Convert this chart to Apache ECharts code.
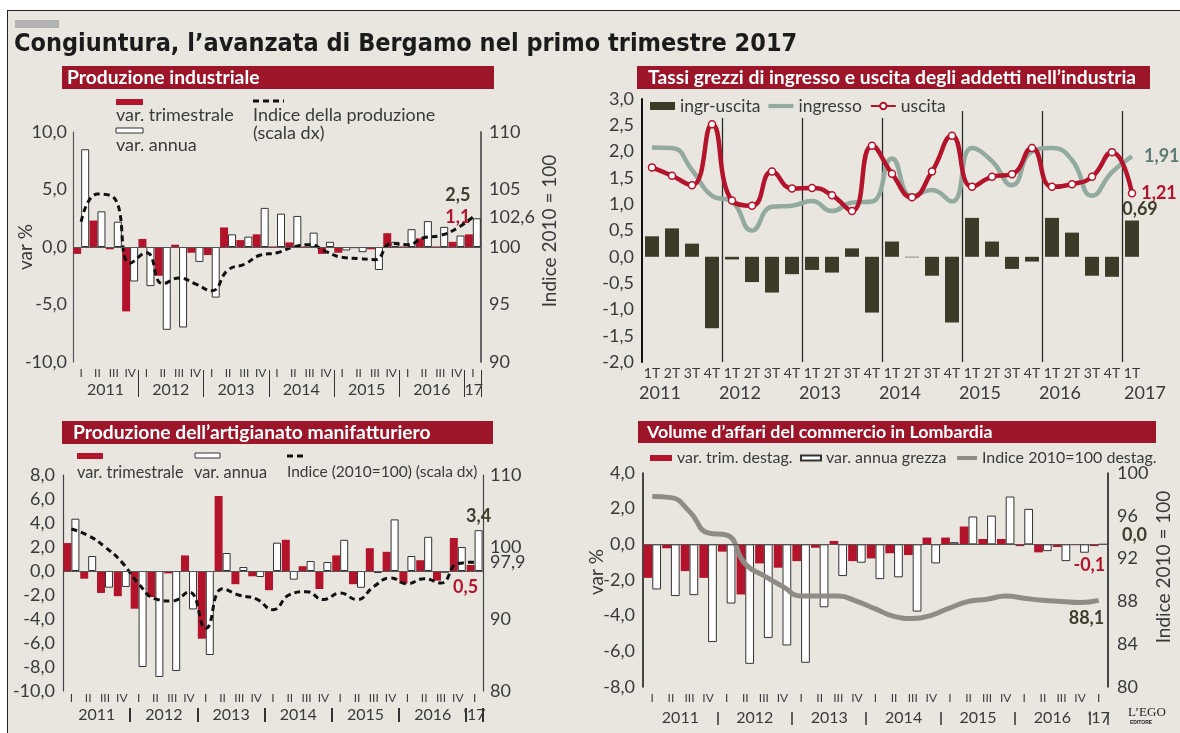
<!DOCTYPE html>
<html><head><meta charset="utf-8">
<script src="https://cdn.jsdelivr.net/npm/echarts@6/dist/echarts.min.js"></script>
<style>
html,body{margin:0;padding:0;background:#fff;}
#wrap{position:relative;width:1180px;height:733px;overflow:hidden;background:#fff;}
#frame{position:absolute;left:7px;top:10px;width:1200px;height:760px;background:#e8e6df;border-left:1.5px solid #222;border-top:1.5px solid #222;}
#c{position:absolute;left:0;top:0;width:1180px;height:733px;}
</style></head><body>
<div id="wrap"><div id="frame"></div><div id="c"></div></div>
<script>
// ---------- categories / tick labels ----------
const quarters = ['2011 I','2011 II','2011 III','2011 IV','2012 I','2012 II','2012 III','2012 IV','2013 I','2013 II','2013 III','2013 IV','2014 I','2014 II','2014 III','2014 IV','2015 I','2015 II','2015 III','2015 IV','2016 I','2016 II','2016 III','2016 IV','2017 I'];
const romanTicks = ['I','II','III','IV','I','II','III','IV','I','II','III','IV','I','II','III','IV','I','II','III','IV','I','II','III','IV','I'];
const tTicks = ['1T','2T','3T','4T','1T','2T','3T','4T','1T','2T','3T','4T','1T','2T','3T','4T','1T','2T','3T','4T','1T','2T','3T','4T','1T'];
const yearsP1 = ['','2011','','','','2012','','','','2013','','','','2014','','','','2015','','','','2016','','','17'];
const yearsP3 = ['','2011','','','','2012','','','','2013','','','','2014','','','','2015','','','','2016','','','\u201817'];
const yearsP2 = ['2011','','','','2012','','','','2013','','','','2014','','','','2015','','','','2016','','','','2017'];
const p1RightTicks = [90, 95, 100, 102.6, 105, 110];
const p3RightTicks = [80, 90, 97.9, 100, 110];

// ---------- Produzione industriale ----------
const p1Trim  = [-0.6, 2.3, -0.2, -5.6, 0.7, -2.5, 0.2, -0.5, -0.7, 1.7, 0.6, 1.1, 0.05, 0.4, 0.05, -0.6, -0.5, -0.1, -0.2, 1.2, 0.05, 0.75, 0.05, 0.45, 1.1];
const p1Annua = [8.5, 3.1, 2.2, -3.0, -3.4, -7.2, -7.0, -1.3, -4.4, 1.1, 0.9, 3.4, 2.9, 2.7, 1.25, 0.45, -0.3, -0.45, -2.0, 0.45, 1.55, 2.25, 1.75, 1.0, 2.5];
const p1Index = [102.2, 104.6, 104.3, 98.6, 99.5, 96.8, 97.3, 96.8, 96.2, 98.0, 98.5, 99.3, 99.5, 100.0, 100.2, 99.6, 99.1, 99.0, 98.9, 100.3, 100.2, 100.8, 101.0, 101.6, 102.6];

// ---------- Tassi grezzi ----------
const p2Saldo    = [0.39, 0.54, 0.25, -1.36, -0.05, -0.48, -0.68, -0.33, -0.25, -0.30, 0.16, -1.06, 0.29, -0.01, -0.36, -1.25, 0.74, 0.29, -0.23, -0.09, 0.74, 0.46, -0.36, -0.38, 0.69];
const p2Ingresso = [2.08, 2.07, 1.65, 1.16, 1.05, 0.50, 0.95, 0.97, 1.06, 0.87, 1.03, 1.05, 1.87, 1.15, 1.27, 1.05, 2.07, 1.82, 1.36, 2.00, 2.07, 1.84, 1.16, 1.61, 1.91];
const p2Uscita   = [1.70, 1.54, 1.36, 2.52, 1.07, 0.97, 1.62, 1.30, 1.31, 1.17, 0.87, 2.11, 1.58, 1.13, 1.62, 2.30, 1.33, 1.52, 1.57, 2.07, 1.33, 1.38, 1.52, 1.99, 1.21];

// ---------- Artigianato manifatturiero ----------
const p3Trim  = [2.33, -0.64, -1.83, -2.1, -3.14, -2.17, -0.2, 1.3, -5.64, 6.25, -1.1, -0.44, -1.6, 2.6, 0.4, -1.5, 1.3, -1.1, 1.9, 1.6, -1.05, 0.9, -0.8, 2.75, 0.5];
const p3Annua = [4.36, 1.25, -1.39, -1.33, -8.0, -8.83, -8.33, -3.2, -7.0, 1.5, 0.33, -0.5, 2.36, -0.72, 0.83, 0.75, 2.6, -1.4, -0.17, 4.3, 1.25, 2.85, -0.15, 2.0, 3.4];
const p3Index = [102.5, 101.6, 100.0, 97.9, 94.9, 92.8, 92.5, 93.75, 88.7, 94.2, 93.3, 92.8, 91.3, 93.4, 93.8, 92.7, 93.6, 92.7, 94.5, 95.7, 94.9, 95.6, 95.0, 97.7, 97.9];

// ---------- Commercio Lombardia ----------
const p4Trim  = [-1.88, -0.22, -1.5, -1.88, -0.41, -2.81, -1.07, -1.31, -0.94, -0.19, 0.19, -0.94, -0.79, -0.5, -0.6, 0.38, 0.38, 1.0, 0.3, 0.3, -0.1, -0.45, -0.15, -0.05, -0.1];
const p4Annua = [-2.53, -2.9, -2.85, -5.48, -3.32, -6.7, -5.25, -5.67, -6.64, -3.53, -1.78, -1.03, -1.95, -1.85, -3.77, -1.07, 0.12, 1.56, 1.61, 2.68, 1.99, -0.38, -0.94, -0.47, 0.0];
const p4Index = [97.8, 97.7, 96.4, 94.4, 94.2, 91.5, 90.4, 89.4, 88.5, 88.5, 88.5, 88.0, 87.3, 86.6, 86.4, 86.7, 87.4, 88.0, 88.2, 88.5, 88.3, 88.1, 88.0, 87.9, 88.1];

// ---------- styles ----------
const FONT = "Lato,'Liberation Sans',Arial,sans-serif";
const FONTB = "Lato,'Liberation Sans',Arial,sans-serif";
const RED = '#b3142c', BANNER = '#9c1528', OLIVE = '#3d3a28', TEAL = '#93aa9f', GREYL = '#8f8c85', TXT = '#3a3a3a', DARKLBL = '#3f3d2c', BG = '#e8e6df';

const fmt1 = v => (Math.round(v * 10) / 10).toFixed(1).replace('.', ',');
const fmt2 = v => v.toFixed(2).replace('.', ',');
const fmtIdx = v => (Math.abs(v - Math.round(v)) < 1e-6 ? String(Math.round(v)) : v.toFixed(1).replace('.', ','));

function lastLabel(arr, label) {
  return arr.map((v, i) => i === arr.length - 1 ? { value: v, label: Object.assign({ show: true, fontFamily: FONTB, fontWeight: 'bold', fontSize: 18 }, label) } : v);
}
function romanAxis(grid, labels, fontSize, margin) {
  return { type: 'category', gridIndex: grid, data: quarters, position: 'bottom',
    axisLine: { show: false }, axisTick: { show: false }, splitLine: { show: false },
    axisLabel: { interval: 0, margin: margin, fontSize: fontSize, color: TXT, fontFamily: FONT, formatter: (v, i) => labels[i] } };
}
function yearAxis(grid, labels, pad, padEnd, fontSize, margin) {
  return { type: 'category', gridIndex: grid, data: quarters, position: 'bottom',
    axisLine: { show: false }, axisTick: { show: false }, splitLine: { show: false },
    axisLabel: { interval: 0, margin: margin,
      formatter: (v, i) => labels[i] ? (i === labels.length - 1 ? '{e|' + labels[i] + '}' : '{y|' + labels[i] + '}') : '',
      rich: { y: { padding: [0, 0, 0, pad], fontSize: fontSize, fontFamily: FONT, color: TXT },
              e: { padding: [0, 0, 0, padEnd], fontSize: fontSize, fontFamily: FONT, color: TXT } } } };
}
function tickAxis(grid, offset, length, width) {
  return { type: 'category', gridIndex: grid, data: quarters, position: 'bottom', offset: offset,
    axisLine: { show: false }, axisLabel: { show: false }, splitLine: { show: false },
    axisTick: { show: true, interval: (i) => i > 0 && i % 4 === 0, length: length, lineStyle: { color: '#333', width: width } } };
}
function valAxis(grid, pos, min, max, interval, margin, fmt, lineColor, lineWidth, extra) {
  return Object.assign({ type: 'value', gridIndex: grid, position: pos, min: min, max: max, interval: interval,
    axisLine: { show: true, lineStyle: { color: lineColor, width: lineWidth } }, axisTick: { show: false }, splitLine: { show: false },
    axisLabel: { margin: margin, fontSize: 18, color: TXT, fontFamily: FONT, formatter: fmt } }, extra || {});
}
function axisName(text, gap, pad) {
  return { name: text, nameLocation: 'middle', nameRotate: 90, nameGap: gap, nameMoveOverlap: false,
    nameTextStyle: { fontSize: 19, color: TXT, fontFamily: FONT, padding: [0, 0, 0, pad] } };
}
function oneLegend(left, name, icon, w, h) {
  return { left: left, top: 445, itemWidth: w, itemHeight: h, selectedMode: false,
    textStyle: { fontSize: 16, color: TXT, fontFamily: FONT }, data: [{ name: name, icon: icon }] };
}
const zeroLine = { silent: true, symbol: 'none', label: { show: false }, lineStyle: { color: '#555', width: 1, type: 'solid' }, data: [{ yAxis: 0 }] };

const option = {
  animation: false,
  grid: [
    { left: 73, top: 132, width: 408, height: 230, outerBoundsMode: 'none' },
    { left: 642, top: 99, width: 500, height: 263, outerBoundsMode: 'none' },
    { left: 642, top: 111, width: 500, height: 251, outerBoundsMode: 'none' },
    { left: 63, top: 475, width: 420, height: 216, outerBoundsMode: 'none' },
    { left: 643, top: 473, width: 465, height: 214, outerBoundsMode: 'none' }
  ],
  xAxis: [
    romanAxis(0, romanTicks, 12, 5),                                  // 0
    Object.assign(yearAxis(0, yearsP1, 16, 2, 16, 12), { offset: 8,
      axisTick: { show: true, interval: (i) => i > 0 && i % 4 === 0, length: 27, lineStyle: { color: '#333', width: 1 } } }), // 1
    romanAxis(1, tTicks, 14, 4),                                      // 2
    yearAxis(1, yearsP2, 16, 26, 18, 22),                             // 3
    { type: 'value', gridIndex: 2, min: 0, max: 25, interval: 4, axisLine: { show: false }, axisTick: { show: false }, axisLabel: { show: false },
      splitLine: { show: true, showMinLine: false, showMaxLine: false, lineStyle: { color: '#2a2a2a', width: 1.3 } } }, // 4
    romanAxis(3, romanTicks, 12, 1),                                  // 5
    yearAxis(3, yearsP3, 17, 0, 16, 16),                              // 6
    tickAxis(3, 17, 14, 2),                                           // 7
    romanAxis(4, romanTicks, 12, 5),                                  // 8
    yearAxis(4, yearsP3, 19, 0, 16, 23),                              // 9
    tickAxis(4, 25, 13, 1.5)                                          // 10
  ],
  yAxis: [
    valAxis(0, 'left', -10, 10, 5, 6, fmt1, '#555', 1.2, axisName('var %', 38, 0)),                 // 0
    valAxis(0, 'right', 90, 110, 5, 8, fmtIdx, '#666', 2, axisName('Indice 2010 = 100', 59, 32)),   // 1
    valAxis(1, 'left', -2, 3, 0.5, 8, fmt1, '#111', 2),                                             // 2
    { type: 'value', gridIndex: 2, min: 0, max: 1, show: false },                                    // 3
    valAxis(3, 'left', -10, 8, 2, 8, fmt1, '#444', 1.2),                                             // 4
    valAxis(3, 'right', 80, 110, 10, 7, fmtIdx, '#444', 1.2),                                        // 5
    valAxis(4, 'left', -8, 4, 2, 8, fmt1, '#111', 1.5, axisName('var %', 37, 16)),                  // 6
    valAxis(4, 'right', 80, 100, 4, 9, fmtIdx, '#111', 1.5, axisName('Indice 2010 = 100', 46, 26))  // 7
  ],
  legend: [
    { left: 645, top: 94, padding: [3, 5, 3, 5], itemWidth: 25, itemHeight: 8, itemGap: 8, selectedMode: false,
      backgroundColor: BG,
      textStyle: { fontSize: 17.5, color: TXT, fontFamily: FONT },
      data: [{ name: 'ingr-uscita', icon: 'rect' }, { name: 'ingresso', icon: 'path://M0,0L30,0L30,5L0,5Z' }, { name: 'uscita' }] },
    oneLegend(645, 'var. trim. destag.', 'rect', 22, 6),
    oneLegend(795, 'var. annua grezza', 'rect', 20, 5),
    oneLegend(952, 'Indice 2010=100 destag.', 'path://M0,0L30,0L30,6L0,6Z', 20, 8)
  ],
  series: [
    // panel 1
    { name: 'var. trimestrale', type: 'bar', xAxisIndex: 0, yAxisIndex: 0, barGap: '0%', barCategoryGap: '2%',
      itemStyle: { color: RED },
      data: lastLabel(p1Trim, { position: 'top', offset: [-11, -3], color: RED, formatter: p => fmt1(p.value) }) },
    { name: 'var. annua', type: 'bar', xAxisIndex: 0, yAxisIndex: 0, barGap: '0%', barCategoryGap: '2%',
      itemStyle: { color: '#fff', borderColor: '#333', borderWidth: 1 }, markLine: zeroLine,
      data: lastLabel(p1Annua, { position: 'top', offset: [-19, -9], color: DARKLBL, formatter: p => fmt1(p.value) }) },
    { name: 'Indice della produzione', type: 'line', xAxisIndex: 0, yAxisIndex: 1, smooth: 0.5, symbol: 'none',
      lineStyle: { color: '#111', width: 3, type: [6, 4] }, data: p1Index },
    // panel 2
    { name: 'ingr-uscita', type: 'bar', xAxisIndex: 2, yAxisIndex: 2, barWidth: 14, itemStyle: { color: OLIVE },
      data: lastLabel(p2Saldo, { position: 'top', offset: [8, 3], color: DARKLBL, formatter: p => fmt2(p.value) }) },
    { name: 'ingresso', type: 'line', xAxisIndex: 2, yAxisIndex: 2, smooth: 0.5, symbol: 'none',
      lineStyle: { color: TEAL, width: 4.5 }, itemStyle: { color: TEAL },
      endLabel: { show: true, formatter: p => fmt2(p.value), offset: [4, 0], color: '#5d7b75', fontFamily: FONTB, fontWeight: 'bold', fontSize: 18 },
      data: p2Ingresso },
    { name: 'uscita', type: 'line', xAxisIndex: 2, yAxisIndex: 2, smooth: 0.5, symbol: 'circle', symbolSize: 7,
      lineStyle: { color: RED, width: 4.5 }, itemStyle: { color: '#fff', borderColor: RED, borderWidth: 1.5 },
      data: lastLabel(p2Uscita, { position: 'right', offset: [0, 0], color: RED, formatter: p => fmt2(p.value) }) },
    // panel 3
    { name: 'p3 var. trimestrale', type: 'bar', xAxisIndex: 5, yAxisIndex: 4, barGap: '0%', barCategoryGap: '5%',
      itemStyle: { color: RED },
      data: lastLabel(p3Trim, { position: 'bottom', offset: [-5, 2], color: RED, formatter: p => fmt1(p.value) }) },
    { name: 'p3 var. annua', type: 'bar', xAxisIndex: 5, yAxisIndex: 4, barGap: '0%', barCategoryGap: '5%',
      itemStyle: { color: '#fff', borderColor: '#333', borderWidth: 1 }, markLine: zeroLine,
      data: lastLabel(p3Annua, { position: 'top', offset: [0, 0], color: DARKLBL, formatter: p => fmt1(p.value) }) },
    { name: 'Indice (2010=100)', type: 'line', xAxisIndex: 5, yAxisIndex: 5, smooth: 0.5, symbol: 'none',
      lineStyle: { color: '#111', width: 3, type: [6, 4] }, data: p3Index },
    // panel 4
    { name: 'var. trim. destag.', type: 'bar', xAxisIndex: 8, yAxisIndex: 6, barGap: '0%', barCategoryGap: '6%',
      itemStyle: { color: RED },
      data: lastLabel(p4Trim, { position: 'bottom', offset: [-5, 5], color: RED, formatter: p => fmt1(p.value) }) },
    { name: 'var. annua grezza', type: 'bar', xAxisIndex: 8, yAxisIndex: 6, barGap: '0%', barCategoryGap: '6%',
      itemStyle: { color: '#fff', borderColor: '#333', borderWidth: 1 }, markLine: zeroLine,
      data: lastLabel(p4Annua, { position: 'right', offset: [9, -9], color: DARKLBL, formatter: p => fmt1(p.value) }) },
    { name: 'Indice 2010=100 destag.', type: 'line', xAxisIndex: 8, yAxisIndex: 7, smooth: 0.5, symbol: 'none',
      lineStyle: { color: GREYL, width: 5 }, itemStyle: { color: GREYL },
      endLabel: { show: true, formatter: p => fmt1(p.value), offset: [-38, 18], color: DARKLBL, fontFamily: FONTB, fontWeight: 'bold', fontSize: 18 },
      data: p4Index }
  ],
  graphic: [
    { type: 'rect', shape: { x: 15, y: 20, width: 44, height: 8 }, style: { fill: '#b3b3b3' } },
    { type: 'text', x: 14, y: 44, style: { text: 'Congiuntura, l\u2019avanzata di Bergamo nel primo trimestre 2017', fontFamily: "'DejaVu Sans Condensed','DejaVu Sans',sans-serif", fontWeight: 'bold', fontSize: 25, fill: '#1b1b1b', verticalAlign: 'middle' } },
    // banners
    { type: 'rect', shape: { x: 62, y: 66, width: 432, height: 23 }, style: { fill: BANNER } },
    { type: 'text', x: 67, y: 78, style: { text: 'Produzione industriale', fontFamily: FONTB, fontWeight: 'bold', fontSize: 19.3, fill: '#fff', verticalAlign: 'middle' } },
    { type: 'rect', shape: { x: 637, y: 66, width: 513, height: 23 }, style: { fill: BANNER } },
    { type: 'text', x: 648, y: 78, style: { text: 'Tassi grezzi di ingresso e uscita degli addetti nell\u2019industria', fontFamily: FONTB, fontWeight: 'bold', fontSize: 19.3, fill: '#fff', verticalAlign: 'middle' } },
    { type: 'rect', shape: { x: 62, y: 421, width: 431, height: 23 }, style: { fill: BANNER } },
    { type: 'text', x: 73, y: 433, style: { text: 'Produzione dell\u2019artigianato manifatturiero', fontFamily: FONTB, fontWeight: 'bold', fontSize: 19.3, fill: '#fff', verticalAlign: 'middle' } },
    { type: 'rect', shape: { x: 638, y: 421, width: 518, height: 22 }, style: { fill: BANNER } },
    { type: 'text', x: 647, y: 432, style: { text: 'Volume d\u2019affari del commercio in Lombardia', fontFamily: FONTB, fontWeight: 'bold', fontSize: 17.8, fill: '#fff', verticalAlign: 'middle' } },
    // panel 1 legend
    { type: 'rect', shape: { x: 116, y: 99, width: 27, height: 6 }, style: { fill: RED } },
    { type: 'text', x: 116, y: 115, style: { text: 'var. trimestrale', fontFamily: FONT, fontSize: 18, fill: TXT, verticalAlign: 'middle' } },
    { type: 'rect', shape: { x: 116, y: 128, width: 27, height: 5 }, style: { fill: '#fff', stroke: '#333', lineWidth: 1 } },
    { type: 'text', x: 116, y: 145, style: { text: 'var. annua', fontFamily: FONT, fontSize: 18, fill: TXT, verticalAlign: 'middle' } },
    { type: 'line', shape: { x1: 253, y1: 101, x2: 284, y2: 101 }, style: { stroke: '#111', lineWidth: 3, lineDash: [6, 4] } },
    { type: 'text', x: 253, y: 115, style: { text: 'Indice della produzione', fontFamily: FONT, fontSize: 18, fill: TXT, verticalAlign: 'middle' } },
    { type: 'text', x: 253, y: 133, style: { text: '(scala dx)', fontFamily: FONT, fontSize: 18, fill: TXT, verticalAlign: 'middle' } },
    // panel 3 legend
    { type: 'rect', shape: { x: 77, y: 453, width: 26, height: 6 }, style: { fill: RED } },
    { type: 'text', x: 77, y: 473, style: { text: 'var. trimestrale', fontFamily: FONT, fontSize: 16.3, fill: TXT, verticalAlign: 'middle' } },
    { type: 'rect', shape: { x: 195, y: 453, width: 25, height: 5 }, style: { fill: '#fff', stroke: '#333', lineWidth: 1 } },
    { type: 'text', x: 194, y: 473, style: { text: 'var. annua', fontFamily: FONT, fontSize: 16.3, fill: TXT, verticalAlign: 'middle' } },
    { type: 'line', shape: { x1: 287, y1: 456, x2: 306, y2: 456 }, style: { stroke: '#111', lineWidth: 3, lineDash: [6, 4] } },
    { type: 'text', x: 287, y: 472, style: { text: 'Indice (2010=100) (scala dx)', fontFamily: FONT, fontSize: 15.5, fill: TXT, verticalAlign: 'middle' } },
    // logo
    { type: 'text', x: 1128, y: 713, style: { text: 'L\u2019EGO', fontFamily: "'Liberation Serif',serif", fontSize: 13, fill: '#222', verticalAlign: 'middle' } },
    { type: 'text', x: 1130, y: 723, style: { text: 'EDITORE', fontFamily: "'Liberation Sans',Arial,sans-serif", fontWeight: 'bold', fontSize: 5, fill: '#222', verticalAlign: 'middle' } }
  ]
};
// right-axis custom labels
option.yAxis[1].axisLabel.customValues = p1RightTicks;
option.yAxis[5].axisLabel.customValues = p3RightTicks;

const chart = echarts.init(document.getElementById('c'), null, { renderer: 'canvas' });
chart.setOption(option);
</script>
</body></html>
